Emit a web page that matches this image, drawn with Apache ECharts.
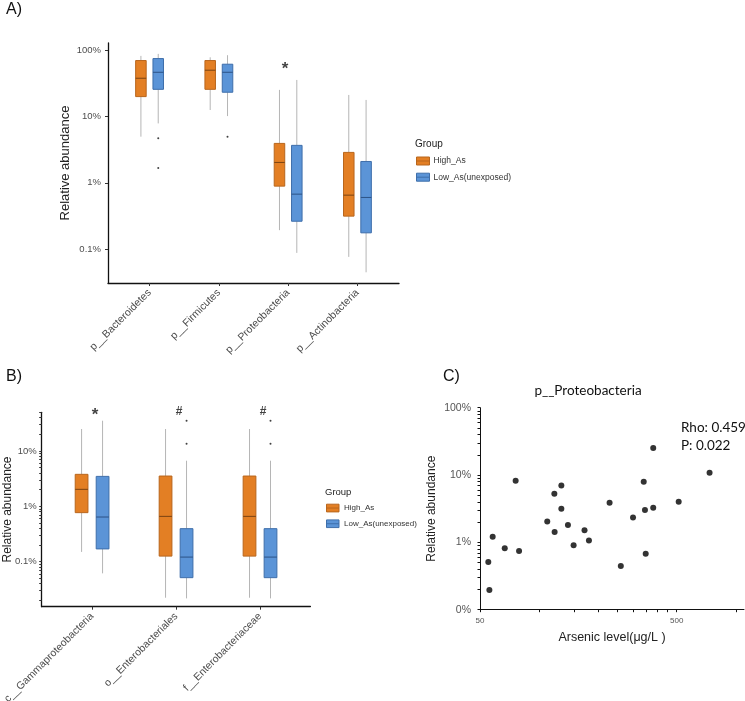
<!DOCTYPE html>
<html><head><meta charset="utf-8">
<script src="https://cdn.jsdelivr.net/npm/echarts@6/dist/echarts.min.js"></script>
<style>html,body{margin:0;padding:0;background:#fff}#c{width:745px;height:701px}</style>
</head><body><div id="c"></div>
<script>
// ---------- data ----------
const groups = ['High_As', 'Low_As(unexposed)'];
// Panel A
const catsA = ['p__Bacteroidetes', 'p__Firmicutes', 'p__Proteobacteria', 'p__Actinobacteria'];
// [lower whisker, Q1, median, Q3, upper whisker] in %
const highA = [[4.98, 20.1, 38.1, 70.6, 83], [12.6, 25.9, 50.4, 70.6, 79], [0.192, 0.89, 2.03, 3.94, 25.4], [0.0757, 0.313, 0.65, 2.88, 21.3]];
const lowA = [[7.9, 25.9, 46.9, 75.6, 89], [10.2, 23.4, 46.9, 62.1, 85], [0.087, 0.262, 0.673, 3.68, 35.9], [0.0443, 0.175, 0.6, 2.1, 17.9]];
const outliersLowA = [[0, 4.7], [0, 1.67], [1, 4.98]];
const sigA = [[2, 59, '*']];
const ticksA = [0.1, 1, 10, 100];
// Panel B
const catsB = ['c__Gammaproteobacteria', 'o__Enterobacteriales', 'f__Enterobacteriaceae'];
const highB = [[0.15, 0.769, 2.03, 3.79, 25], [0.0223, 0.126, 0.659, 3.53, 25], [0.0223, 0.126, 0.659, 3.53, 25]];
const lowB = [[0.0615, 0.17, 0.641, 3.48, 35.3], [0.0217, 0.0514, 0.121, 0.395, 6.68], [0.0217, 0.0514, 0.121, 0.395, 6.68]];
const outliersLowB = [[1, 13.6], [1, 35.3], [2, 13.6], [2, 35.3]];
const sigB = [[0, 52.8, '*'], [1, 51.3, '#'], [2, 51.3, '#']];
const labelTicksB = [0.1, 1, 10];
const minorTicksB = [0.02,0.03,0.04,0.05,0.06,0.07,0.08,0.09,0.1,0.2,0.3,0.4,0.5,0.6,0.7,0.8,0.9,1,2,3,4,5,6,7,8,9,10,20,30,40,50];
// Panel C
const arsenic = [55.1, 55.8, 58.0, 66.8, 75.9, 79.0, 109.9, 119.4, 119.8, 129.6, 129.6, 140, 149.6, 170, 179, 228, 260, 300, 340, 345, 348, 380, 380, 512, 735];
const proteo = [0.511, 0.196, 1.21, 0.815, 8.21, 0.744, 2.05, 5.27, 1.42, 7.0, 3.16, 1.81, 0.903, 1.51, 1.07, 3.88, 0.446, 2.35, 7.94, 3.02, 0.679, 25.3, 3.27, 4.01, 10.8];
const labelTicksCx = [50, 500];
const tickValuesCx = [50,100,150,200,250,300,350,400,450,500,1000];
const labelTicksCy = [0.1, 1, 10, 100];
const tickValuesCy = [0.1,0.2,0.3,0.4,0.5,0.6,0.7,0.8,0.9,1,2,3,4,5,6,7,8,9,10,20,30,40,50,60,70,80,90,100];
const statText = ['Rho: 0.459', 'P: 0.022'];

// ---------- style ----------
const FONT = 'Liberation Sans, Arial, sans-serif';
const ORANGE = '#E37F24', ORANGE_B = '#B8661D', ORANGE_M = '#7A4312';
const BLUE = '#5B94D7', BLUE_B = '#3E6EAA', BLUE_M = '#2C5285';
const WHISK = '#B5B5B5';
const OFF = 0.125, HALF = 0.076;

function boxRender(offset, fill, stroke, med) {
  return function (params, api) {
    const c = api.value(0) + offset;
    const p = i => api.coord([c, api.value(i)]);
    const lo = p(1), q1 = p(2), md = p(3), q3 = p(4), hi = p(5);
    const xl = api.coord([c - HALF, api.value(3)])[0];
    const xr = api.coord([c + HALF, api.value(3)])[0];
    return {
      type: 'group', children: [
        { type: 'line', shape: { x1: lo[0], y1: lo[1], x2: q1[0], y2: q1[1] }, style: { stroke: WHISK, lineWidth: 1 } },
        { type: 'line', shape: { x1: q3[0], y1: q3[1], x2: hi[0], y2: hi[1] }, style: { stroke: WHISK, lineWidth: 1 } },
        { type: 'rect', shape: { x: xl, y: q3[1], width: xr - xl, height: q1[1] - q3[1] }, style: { fill: fill, stroke: stroke, lineWidth: 1 } },
        { type: 'line', shape: { x1: xl, y1: md[1], x2: xr, y2: md[1] }, style: { stroke: med, lineWidth: 1 } }
      ]
    };
  };
}
function boxSeries(name, data, gi, offset, fill, stroke, med) {
  return {
    type: 'custom', name: name, xAxisIndex: gi, yAxisIndex: gi,
    renderItem: boxRender(offset, fill, stroke, med),
    itemStyle: { color: fill, borderColor: stroke, borderWidth: 1 },
    encode: { x: 0, y: [1, 2, 3, 4, 5] },
    data: data.map((v, i) => [i].concat(v)), z: 2
  };
}
function outlierSeries(data, gi, offset) {
  return {
    type: 'scatter', xAxisIndex: gi, yAxisIndex: gi, symbolSize: 2, clip: false,
    itemStyle: { color: '#111' }, silent: true,
    data: data.map(d => [d[0] + offset, d[1]]), z: 3
  };
}
function sigSeries(data, gi, dx) {
  return {
    type: 'scatter', xAxisIndex: gi, yAxisIndex: gi, symbolSize: 0, clip: false, silent: true,
    data: data.map(d => ({ value: [d[0], d[1]], label: { formatter: d[2], offset: [dx, d[2] === '*' ? 4 : 0], fontSize: d[2] === '*' ? 17 : 12 } })),
    label: { show: true, position: 'inside', color: '#111', fontWeight: 'bold', fontFamily: FONT }
  };
}
const pct = v => {
  const r = Math.round(v * 1000) / 1000;
  return r + '%';
};
function catX(gi, n, cats, fs) {
  return {
    type: 'value', gridIndex: gi, min: -0.6, max: n - 0.4,
    splitLine: { show: false },
    axisLine: { show: true, onZero: false, lineStyle: { color: '#111', width: 1.3 } },
    axisTick: { show: true, length: 3, customValues: cats.map((c, i) => i), lineStyle: { color: '#333' } },
    axisLabel: { customValues: cats.map((c, i) => i), formatter: v => cats[Math.round(v)], rotate: 45, margin: 8, color: '#4d4d4d', fontSize: fs, fontFamily: FONT }
  };
}

const option = {
  animation: false,
  backgroundColor: '#fff',
  grid: [
    { left: 108, top: 43, width: 291, height: 240, containLabel: false, outerBoundsMode: 'none' },
    { left: 41.7, top: 412.3, width: 268.7, height: 194.4, containLabel: false, outerBoundsMode: 'none' },
    { left: 480, top: 407.7, width: 264, height: 202, containLabel: false, outerBoundsMode: 'none' }
  ],
  xAxis: [
    catX(0, catsA.length, catsA, 10.5),
    catX(1, catsB.length, catsB, 10.5),
    {
      type: 'log', gridIndex: 2, min: 50, max: 1100, logBase: 10,
      splitLine: { show: false },
      axisLine: { show: true, onZero: false, lineStyle: { color: '#111', width: 1 } },
      axisTick: { show: true, length: 2.5, customValues: tickValuesCx, lineStyle: { color: '#111' } },
      axisLabel: { customValues: labelTicksCx, formatter: v => String(Math.round(v)), color: '#555', fontSize: 8, margin: 7, fontFamily: FONT },
      name: 'Arsenic level(μg/L )', nameLocation: 'middle', nameGap: 21, nameMoveOverlap: false,
      nameTextStyle: { fontSize: 12.5, color: '#222', fontFamily: FONT }
    }
  ],
  yAxis: [
    {
      type: 'log', gridIndex: 0, min: 0.0305, max: 130, logBase: 10,
      splitLine: { show: false },
      axisLine: { show: true, onZero: false, lineStyle: { color: '#111', width: 1.3 } },
      axisTick: { show: true, length: 3, customValues: ticksA, lineStyle: { color: '#333' } },
      axisLabel: { customValues: ticksA, formatter: pct, color: '#4d4d4d', fontSize: 9.5, margin: 7, fontFamily: FONT },
      name: 'Relative abundance', nameLocation: 'middle', nameGap: 36, nameMoveOverlap: false,
      nameTextStyle: { fontSize: 13, color: '#222', fontFamily: FONT }
    },
    {
      type: 'log', gridIndex: 1, min: 0.01535, max: 50.1, logBase: 10,
      splitLine: { show: false },
      axisLine: { show: true, onZero: false, lineStyle: { color: '#111', width: 1.3 } },
      axisTick: { show: true, length: 2.5, customValues: minorTicksB, lineStyle: { color: '#333' } },
      axisLabel: { customValues: labelTicksB, formatter: pct, color: '#4d4d4d', fontSize: 9.5, margin: 5, fontFamily: FONT },
      name: 'Relative abundance', nameLocation: 'middle', nameGap: 28, nameMoveOverlap: false,
      nameTextStyle: { fontSize: 12, color: '#222', fontFamily: FONT }
    },
    {
      type: 'log', gridIndex: 2, min: 0.1, max: 100, logBase: 10,
      splitLine: { show: false },
      axisLine: { show: true, onZero: false, lineStyle: { color: '#111', width: 1 } },
      axisTick: { show: true, length: 2.5, customValues: tickValuesCy, lineStyle: { color: '#111' } },
      axisLabel: { customValues: labelTicksCy, formatter: v => (Math.abs(v - 0.1) < 1e-6 ? '0%' : pct(v)), color: '#555', fontSize: 10.5, margin: 9, fontFamily: FONT },
      name: 'Relative abundance', nameLocation: 'middle', nameGap: 42, nameMoveOverlap: false,
      nameTextStyle: { fontSize: 12, color: '#222', fontFamily: FONT }
    }
  ],
  legend: [
    {
      data: groups, orient: 'vertical', left: 416, top: 156.5, padding: 0, itemGap: 7.2,
      itemWidth: 13, itemHeight: 8, icon: 'path://M0,0H13V8H0Z M0,4H13',
      itemStyle: { borderWidth: 1 },
      textStyle: { fontSize: 8.5, color: '#333', fontFamily: FONT, padding: [0, 0, 0, -1] },
      selectedMode: false
    },
    {
      data: groups, orient: 'vertical', left: 326, top: 503.7, padding: 0, itemGap: 7,
      itemWidth: 12.5, itemHeight: 8, icon: 'path://M0,0H13V8H0Z M0,4H13',
      itemStyle: { borderWidth: 1 },
      textStyle: { fontSize: 8, color: '#333', fontFamily: FONT },
      selectedMode: false
    }
  ],
  graphic: [
    { type: 'text', x: 6, y: 2, style: { text: 'A)', font: '16px ' + FONT, fill: '#111' } },
    { type: 'text', x: 6, y: 369, style: { text: 'B)', font: '16px ' + FONT, fill: '#111' } },
    { type: 'text', x: 443, y: 369, style: { text: 'C)', font: '16px ' + FONT, fill: '#111' } },
    { type: 'text', x: 415, y: 139, style: { text: 'Group', font: '10px ' + FONT, fill: '#222' } },
    { type: 'text', x: 325, y: 487.5, style: { text: 'Group', font: '9.5px ' + FONT, fill: '#222' } },
    { type: 'text', x: 588, y: 391, style: { text: 'p__Proteobacteria', font: '13.5px Lato, "Open Sans", sans-serif', fill: '#111', textAlign: 'center', textVerticalAlign: 'middle' } },
    { type: 'text', x: 681, y: 428, style: { text: statText[0], font: '13.5px Lato, "Open Sans", sans-serif', fill: '#111', textVerticalAlign: 'middle' } },
    { type: 'text', x: 681, y: 446, style: { text: statText[1], font: '13.5px Lato, "Open Sans", sans-serif', fill: '#111', textVerticalAlign: 'middle' } }
  ],
  series: [
    boxSeries(groups[0], highA, 0, -OFF, ORANGE, ORANGE_B, ORANGE_M),
    boxSeries(groups[1], lowA, 0, OFF, BLUE, BLUE_B, BLUE_M),
    outlierSeries(outliersLowA, 0, OFF),
    sigSeries(sigA, 0, -3),
    boxSeries(groups[0], highB, 1, -OFF, ORANGE, ORANGE_B, ORANGE_M),
    boxSeries(groups[1], lowB, 1, OFF, BLUE, BLUE_B, BLUE_M),
    outlierSeries(outliersLowB, 1, OFF),
    sigSeries(sigB, 1, 3),
    {
      type: 'scatter', xAxisIndex: 2, yAxisIndex: 2, symbolSize: 6, clip: false,
      itemStyle: { color: '#000' },
      data: arsenic.map((a, i) => [a, proteo[i]])
    }
  ]
};
const chart = echarts.init(document.getElementById('c'), null, { renderer: 'canvas' });
chart.setOption(option);
</script>
</body></html>
